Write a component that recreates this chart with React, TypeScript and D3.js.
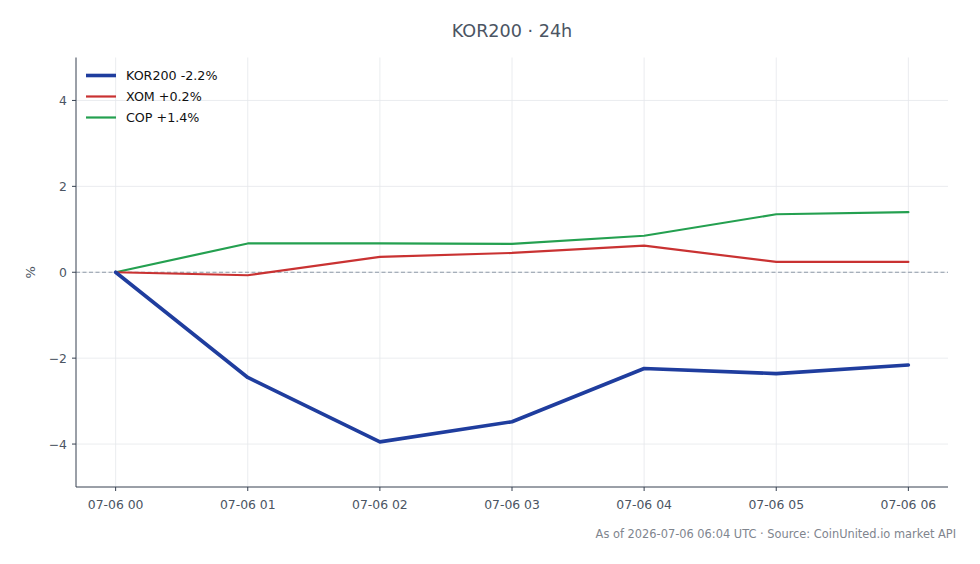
import React from "react";
import * as d3 from "d3";

const hours = ["07-06 00", "07-06 01", "07-06 02", "07-06 03", "07-06 04", "07-06 05", "07-06 06"];
const kor200 = [0, -2.45, -3.95, -3.48, -2.24, -2.36, -2.16];
const xom = [0, -0.07, 0.36, 0.45, 0.62, 0.24, 0.24];
const cop = [0, 0.67, 0.67, 0.66, 0.85, 1.35, 1.4];
const yTicks = [-4, -2, 0, 2, 4];

const seriesNames = ["KOR200 -2.2%", "XOM +0.2%", "COP +1.4%"];
const seriesColors = ["#1f3d9e", "#c93232", "#24a050"];
const seriesWidths = [3.6, 2.2, 2.2];
const seriesData = [kor200, xom, cop];

const W = 980, H = 564;
const left = 76, right = 948, top = 57.5, bottom = 487;
const FONT = "DejaVu Sans, sans-serif";
const TXT = "#4b5563";

export default function App() {
  const x = d3.scaleLinear().domain([-0.3, hours.length - 1 + 0.3]).range([left, right]);
  const y = d3.scaleLinear().domain([-5, 5]).range([bottom, top]);
  const line = d3.line<number>().x((_, i) => x(i)).y(d => y(d));
  const order = [2, 1, 0];
  return (
    <svg width={W} height={H} style={{ position: "absolute", left: 0, top: 0, background: "#fff" }} fontFamily={FONT}>
      <rect width={W} height={H} fill="#fff" />
      {hours.map((_, i) => (
        <line key={"gx" + i} x1={x(i)} x2={x(i)} y1={top} y2={bottom} stroke="#e5e7eb" strokeWidth={0.8} />
      ))}
      {yTicks.map(t => (
        <line key={"gy" + t} x1={left} x2={right} y1={y(t)} y2={y(t)} stroke="#e5e7eb" strokeWidth={0.8} />
      ))}
      <line x1={left} x2={right} y1={y(0)} y2={y(0)} stroke="#8f99a8" strokeWidth={1} strokeDasharray="4,2.5" />
      {order.map(k => (
        <path key={"s" + k} d={line(seriesData[k]) || ""} fill="none" stroke={seriesColors[k]} strokeWidth={seriesWidths[k]} strokeLinejoin="round" strokeLinecap="round" />
      ))}
      <line x1={left} x2={left} y1={top} y2={bottom} stroke="#374151" strokeWidth={1} />
      <line x1={left} x2={right} y1={bottom} y2={bottom} stroke="#374151" strokeWidth={1} />
      {hours.map((h, i) => (
        <g key={"xt" + i}>
          <line x1={x(i)} x2={x(i)} y1={bottom} y2={bottom + 4} stroke="#374151" strokeWidth={1} />
          <text x={x(i)} y={bottom + 21.5} textAnchor="middle" fontSize={12.4} fill={TXT}>{h}</text>
        </g>
      ))}
      {yTicks.map(t => (
        <g key={"yt" + t}>
          <line x1={left - 4} x2={left} y1={y(t)} y2={y(t)} stroke="#374151" strokeWidth={1} />
          <text x={left - 9} y={y(t) + 4.5} textAnchor="end" fontSize={12.4} fill={TXT}>{t < 0 ? "\u2212" + Math.abs(t) : String(t)}</text>
        </g>
      ))}
      <text transform={`translate(35,${y(0)}) rotate(-90)`} textAnchor="middle" fontSize={13} fill={TXT}>%</text>
      <text x={512} y={37} textAnchor="middle" fontSize={17.6} fill="#4b5563">KOR200 · 24h</text>
      {seriesNames.map((n, k) => (
        <g key={"lg" + k}>
          <line x1={86} x2={116} y1={75.5 + k * 21} y2={75.5 + k * 21} stroke={seriesColors[k]} strokeWidth={seriesWidths[k]} />
          <text x={126} y={75.5 + k * 21 + 4.5} fontSize={12.7} fill="#111">{n}</text>
        </g>
      ))}
      <text x={956} y={538} textAnchor="end" fontSize={11.4} fill="#80858e">As of 2026-07-06 06:04 UTC · Source: CoinUnited.io market API</text>
    </svg>
  );
}
